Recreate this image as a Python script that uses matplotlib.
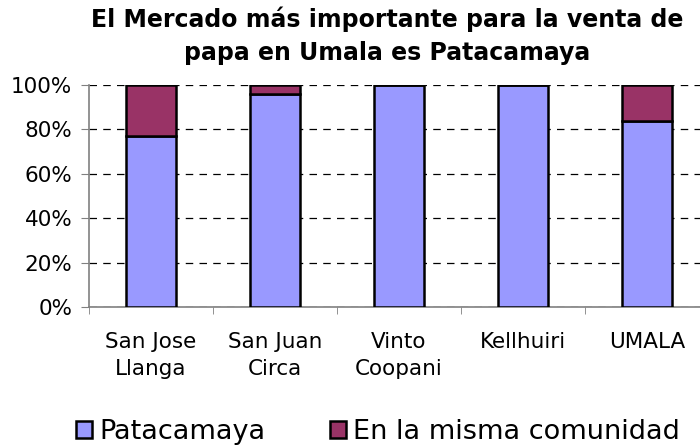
import matplotlib

matplotlib.use("Agg")
import matplotlib.pyplot as plt
from matplotlib.ticker import FixedLocator, PercentFormatter

categories = ["San Jose\nLlanga", "San Juan\nCirca", "Vinto\nCoopani", "Kellhuiri", "UMALA"]
patacamaya = [77, 96, 100, 100, 84]
misma_comunidad = [23, 4, 0, 0, 16]
series_names = ["Patacamaya", "En la misma comunidad"]
colors = ["#9999ff", "#993366"]

plt.rcParams["font.family"] = ["DejaVu Sans"]

fig = plt.figure(figsize=(7, 4.45), dpi=100)
ax = fig.add_axes([89 / 700, 1 - 307 / 445, 620 / 700, 222 / 445])

x = list(range(len(categories)))
ax.bar(x, patacamaya, width=0.4, color=colors[0], edgecolor="black", linewidth=1.8,
       label=series_names[0], zorder=3)
ax.bar(x, misma_comunidad, width=0.4, bottom=patacamaya, color=colors[1], edgecolor="black",
       linewidth=1.8, label=series_names[1], zorder=3)

ax.set_xlim(-0.5, len(categories) - 0.5)
ax.set_ylim(0, 100)
ax.set_yticks([0, 20, 40, 60, 80, 100])
ax.yaxis.set_major_formatter(PercentFormatter(decimals=0))
ax.set_xticks(x)
ax.set_xticklabels(categories, fontsize=15.5, linespacing=1.45)
ax.xaxis.set_minor_locator(FixedLocator([i - 0.5 for i in range(len(categories) + 1)]))
ax.tick_params(axis="x", which="major", length=0, pad=18)
ax.tick_params(axis="x", which="minor", length=5, color="#808080")
ax.tick_params(axis="y", length=6, color="#808080", labelsize=15.5, pad=6)

ax.grid(axis="y", color="black", linestyle=(0, (6, 5)), linewidth=0.9, zorder=0)
for side in ["top", "right"]:
    ax.spines[side].set_visible(False)
for side in ["left", "bottom"]:
    ax.spines[side].set_color("#808080")
    ax.spines[side].set_linewidth(1.2)

fig.text(0.553, 0.985, "El Mercado más importante para la venta de\npapa en Umala es Patacamaya",
         ha="center", va="top", fontsize=17, fontweight="bold", linespacing=1.45)

fig.legend(loc="lower center", bbox_to_anchor=(0.54, -0.055), ncol=2, frameon=False,
           fontsize=19.5, handlelength=0.6, handleheight=0.6, handletextpad=0.25, columnspacing=2.4)

fig.savefig("out.png", dpi=100)
